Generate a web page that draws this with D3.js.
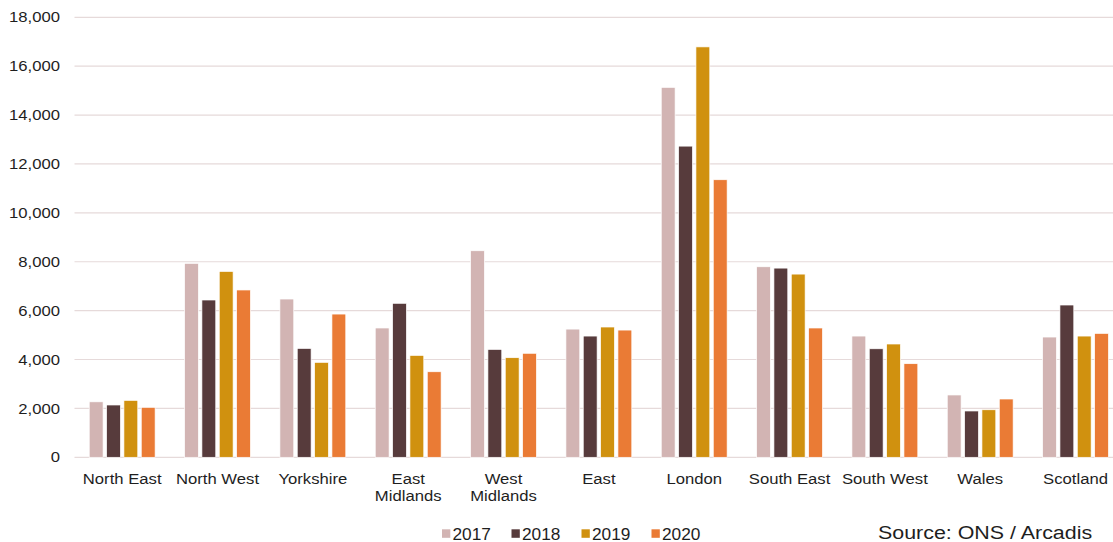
<!DOCTYPE html>
<html>
<head>
<meta charset="utf-8">
<script src="https://cdn.jsdelivr.net/npm/d3@7"></script>
<style>
  html, body { margin: 0; padding: 0; background: #fff; }
  svg { display: block; }
  text { font-family: "Liberation Sans", Arial, Helvetica, sans-serif; fill: #1e1e1e; }
</style>
</head>
<body>
<svg id="chart" width="1113" height="542"></svg>
<script>
const categories = ["North East", "North West", "Yorkshire", "East Midlands", "West Midlands", "East", "London", "South East", "South West", "Wales", "Scotland"];
const categoryLines = [["North East"], ["North West"], ["Yorkshire"], ["East", "Midlands"], ["West", "Midlands"], ["East"], ["London"], ["South East"], ["South West"], ["Wales"], ["Scotland"]];
const years = ["2017", "2018", "2019", "2020"];
const values2017 = [2270, 7935, 6475, 5290, 8450, 5245, 15135, 7795, 4960, 2550, 4920];
const values2018 = [2140, 6435, 4455, 6300, 4415, 4960, 12730, 7740, 4440, 1895, 6230];
const values2019 = [2330, 7605, 3885, 4170, 4075, 5330, 16790, 7495, 4635, 1945, 4960];
const values2020 = [2045, 6845, 5860, 3500, 4255, 5205, 11355, 5290, 3830, 2385, 5070];
const yTicks = [0, 2000, 4000, 6000, 8000, 10000, 12000, 14000, 16000, 18000];
const colors = ["#d2b4b3", "#573b3c", "#d0910f", "#ea7b35"];
const sourceText = "Source: ONS / Arcadis";

const series = [values2017, values2018, values2019, values2020];
const svg = d3.select("#chart");

const y = d3.scaleLinear().domain([0, 18000]).range([457.3, 17.3]);
const x0 = d3.scaleBand().domain(categories).range([74.5, 1123.2]).padding(0);
const groupW = 65.9;
const x1 = d3.scaleBand().domain(years).range([0, groupW]).paddingInner(0.2).paddingOuter(0);
const groupOff = (x0.bandwidth() - groupW) / 2;
const color = d3.scaleOrdinal().domain(years).range(colors);
const sx = 1.15;

// gridlines
svg.append("g").selectAll("line").data(yTicks).join("line")
  .attr("x1", 74.5).attr("x2", 1113)
  .attr("y1", d => y(d)).attr("y2", d => y(d))
  .attr("stroke", "#e6dada").attr("stroke-width", 1.2);

// y tick labels
svg.append("g").selectAll("text").data(yTicks).join("text")
  .attr("transform", d => `translate(60,${y(d)}) scale(${sx},1)`)
  .attr("text-anchor", "end")
  .attr("dominant-baseline", "central")
  .attr("font-size", "14.5px")
  .text(d => d3.format(",")(d));

// bars
const groups = svg.append("g").selectAll("g").data(categories).join("g")
  .attr("transform", c => `translate(${x0(c) + groupOff},0)`);
groups.selectAll("rect")
  .data((c, i) => years.map((yr, k) => ({ yr, v: series[k][i] })))
  .join("rect")
  .attr("x", d => x1(d.yr))
  .attr("width", x1.bandwidth())
  .attr("y", d => y(d.v))
  .attr("height", d => y(0) - y(d.v))
  .attr("fill", d => color(d.yr))
  .attr("stroke", "#ffffff")
  .attr("stroke-width", 0.7);

// category labels
const catG = svg.append("g").selectAll("g").data(categories).join("g")
  .attr("transform", c => `translate(${x0(c) + x0.bandwidth() / 2},483.5) scale(${sx},1)`);
catG.each(function (c, i) {
  const t = d3.select(this).append("text")
    .attr("text-anchor", "middle")
    .attr("font-size", "14.5px");
  categoryLines[i].forEach((ln, j) => {
    t.append("tspan").attr("x", 0).attr("y", j * 17.5).text(ln);
  });
});

// legend
const legendX = [442, 511.5, 581.5, 651.5];
const leg = svg.append("g").selectAll("g").data(years).join("g")
  .attr("transform", (d, i) => `translate(${legendX[i]},0)`);
leg.append("rect").attr("x", 0).attr("y", 529.3).attr("width", 8.3).attr("height", 8.5)
  .attr("fill", d => color(d));
leg.append("text")
  .attr("transform", "translate(10.5,539.5) scale(1.08,1)")
  .attr("font-size", "16px")
  .text(d => d);

// source
svg.append("text")
  .attr("transform", "translate(878,538.5) scale(1.19,1)")
  .attr("font-size", "18px")
  .text(sourceText);
</script>
</body>
</html>
